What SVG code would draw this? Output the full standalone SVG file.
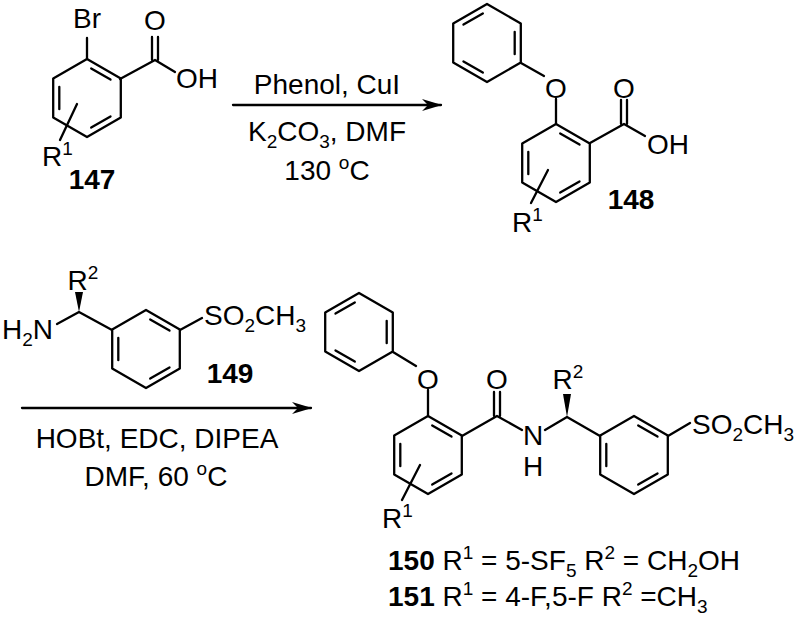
<svg xmlns="http://www.w3.org/2000/svg" width="798" height="620" viewBox="0 0 798 620">
<style>
.b{stroke:#000;stroke-width:2.3;fill:none;stroke-linecap:round;stroke-linejoin:round}
text{font-family:"Liberation Sans",Arial,sans-serif;font-size:28px;fill:#000}
.n{font-weight:bold}
.c{text-anchor:middle}
.s{font-size:19px}
</style>
<defs>
<path id="hex" d="M0,-39L33.8,-19.5L33.8,19.5L0,39L-33.8,19.5L-33.8,-19.5Z"/>
<path id="dA" d="M4.2,-29.6L23.5,-18.4M23.5,18.4L4.2,29.6M-27.7,11.2L-27.7,-11.2"/>
<marker id="ah" markerWidth="20" markerHeight="12" refX="19" refY="6" orient="auto" markerUnits="userSpaceOnUse"><path d="M0,0L20,6L0,12L6,6Z" fill="#000"/></marker>
</defs>
<rect width="798" height="620" fill="#fff"/>
<g id="m147">
<g class="b" transform="translate(87,98)"><use href="#hex"/><use href="#dA"/></g>
<path class="b" d="M87,59V38M120,79L155,60L175,72M152,60V37M158,60V37M77,104L60,140"/>
<text x="87" y="28" class="c">Br</text>
<text x="155" y="30" class="c">O</text>
<text x="176" y="88">OH</text>
<text x="42" y="166">R<tspan dy="-11" class="s">1</tspan></text>
<text x="92" y="189" class="c n">147</text>
</g>
<g id="m148">
<g class="b" transform="translate(487,43)"><use href="#hex"/><use href="#dA" transform="scale(-1,1)"/></g>
<g class="b" transform="translate(556,163)"><use href="#hex"/><use href="#dA"/></g>
<path class="b" d="M521,63L544,76M556,99V124M590,143L624,124L645,136M621,124V100M627,124V100M548,170L531,203"/>
<text x="556" y="98" class="c">O</text>
<text x="624" y="98" class="c">O</text>
<text x="647" y="154">OH</text>
<text x="512" y="232">R<tspan dy="-11" class="s">1</tspan></text>
<text x="631" y="209" class="c n">148</text>
</g>
<g id="m149">
<g class="b" transform="translate(146,349)"><use href="#hex"/><use href="#dA"/></g>
<path class="b" d="M112,330L79,312L57,324M180,330L202,318"/>
<path d="M79,312L75,292L83,292Z" fill="#000"/>
<text x="83" y="290" class="c">R<tspan dy="-11" class="s">2</tspan></text>
<text x="2" y="339">H<tspan dy="7" class="s">2</tspan><tspan dy="-7">N</tspan></text>
<text x="204" y="325">SO<tspan dy="7" class="s">2</tspan><tspan dy="-7">CH</tspan><tspan dy="7" class="s">3</tspan></text>
<text x="230" y="383" class="c n">149</text>
</g>
<g id="m150">
<g class="b" transform="translate(359,332)"><use href="#hex"/><use href="#dA" transform="scale(-1,1)"/></g>
<g class="b" transform="translate(428,455)"><use href="#hex"/><use href="#dA"/></g>
<g class="b" transform="translate(634,455)"><use href="#hex"/><use href="#dA"/></g>
<path class="b" d="M393,352L416,366M428,390V416M462,436L497,416L522,430M494,416V392M500,416V392M545,430L567,417L600,436M668,436L690,423M420,465L402,500"/>
<path d="M567,417L563,394L571,394Z" fill="#000"/>
<text x="428" y="389" class="c">O</text>
<text x="497" y="389" class="c">O</text>
<text x="533" y="445" class="c">N</text>
<text x="533" y="476" class="c">H</text>
<text x="568" y="389" class="c">R<tspan dy="-11" class="s">2</tspan></text>
<text x="692" y="434">SO<tspan dy="7" class="s">2</tspan><tspan dy="-7">CH</tspan><tspan dy="7" class="s">3</tspan></text>
<text x="382" y="528">R<tspan dy="-11" class="s">1</tspan></text>
<text x="388" y="570"><tspan class="n">150</tspan> R<tspan dy="-11" class="s">1</tspan><tspan dy="11"> = 5-SF</tspan><tspan dy="7" class="s">5</tspan><tspan dy="-7"> R</tspan><tspan dy="-11" class="s">2</tspan><tspan dy="11"> = CH</tspan><tspan dy="7" class="s">2</tspan><tspan dy="-7">OH</tspan></text>
<text x="388" y="606"><tspan class="n">151</tspan> R<tspan dy="-11" class="s">1</tspan><tspan dy="11"> = 4-F,5-F R</tspan><tspan dy="-11" class="s">2</tspan><tspan dy="11"> =CH</tspan><tspan dy="7" class="s">3</tspan></text>
</g>
<g id="connectors">
<path class="b" d="M233,105H441" marker-end="url(#ah)"/>
<path class="b" d="M22,408H311" marker-end="url(#ah)"/>
</g>
<g id="conditions">
<text x="327" y="94" class="c">Phenol, CuI</text>
<text x="327" y="141" class="c">K<tspan dy="7" class="s">2</tspan><tspan dy="-7">CO</tspan><tspan dy="7" class="s">3</tspan><tspan dy="-7">, DMF</tspan></text>
<text x="327" y="180" class="c">130 <tspan dy="-11" class="s">o</tspan><tspan dy="11">C</tspan></text>
<text x="157" y="448" class="c">HOBt, EDC, DIPEA</text>
<text x="156" y="486" class="c">DMF, 60 <tspan dy="-11" class="s">o</tspan><tspan dy="11">C</tspan></text>
</g>
</svg>
